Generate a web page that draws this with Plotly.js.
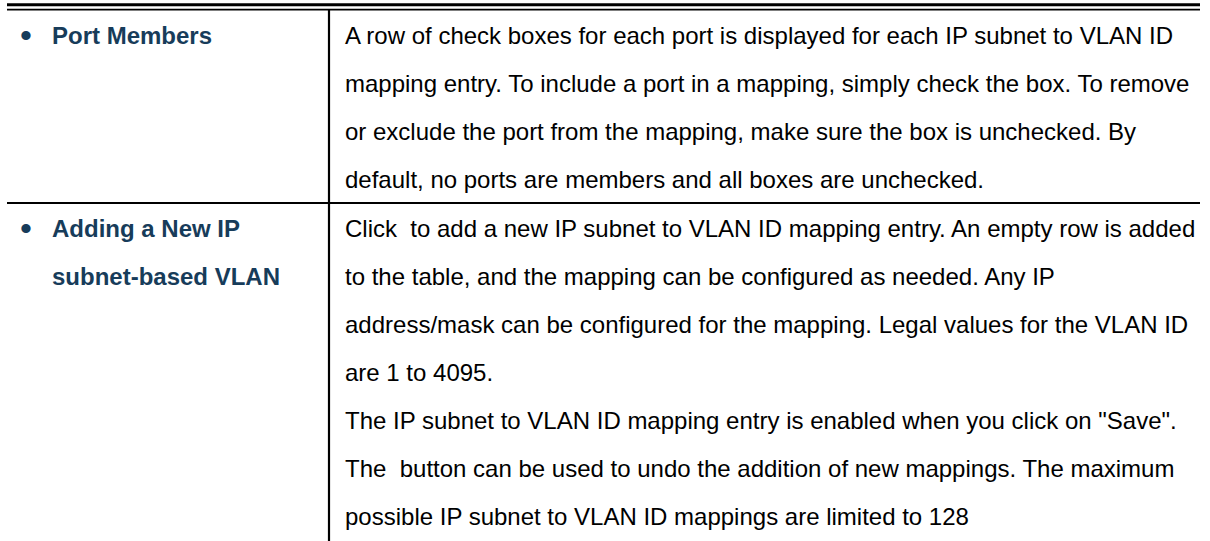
<!DOCTYPE html>
<html>
<head>
<meta charset="utf-8">
<script src="https://cdn.plot.ly/plotly-3.0.1.min.js"></script>
<style>
html,body{margin:0;padding:0;background:#fff;overflow:hidden;}
#chart{width:1210px;height:541px;}
</style>
</head>
<body>
<div id="chart"></div>
<script>
// ---- content ----
const rowLabels = [
  ["Port Members"],
  ["Adding a New IP", "subnet-based VLAN"]
];
const rowTextLines = [
  [
    "A row of check boxes for each port is displayed for each IP subnet to VLAN ID",
    "mapping entry. To include a port in a mapping, simply check the box. To remove",
    "or exclude the port from the mapping, make sure the box is unchecked. By",
    "default, no ports are members and all boxes are unchecked."
  ],
  [
    "Click  to add a new IP subnet to VLAN ID mapping entry. An empty row is added",
    "to the table, and the mapping can be configured as needed. Any IP",
    "address/mask can be configured for the mapping. Legal values for the VLAN ID",
    "are 1 to 4095.",
    "The IP subnet to VLAN ID mapping entry is enabled when you click on \"Save\".",
    "The  button can be used to undo the addition of new mappings. The maximum",
    "possible IP subnet to VLAN ID mappings are limited to 128"
  ]
];

// ---- layout constants ----
const W = 1210, H = 541;
const tableLeft = 7, tableRight = 1200, colSplit = 329;
const lineGap = 48;
const rowTops = [10, 203];
const firstLineOffset = 25;
const fontFamily = '"Liberation Sans", Arial, Helvetica, sans-serif';
const fontSize = 24;
const labelColor = '#173c5a';

const annotations = [];
const shapes = [];

// top double rule
shapes.push({type:'line', xref:'x', yref:'y', x0:tableLeft, x1:tableRight, y0:4.8, y1:4.8, line:{color:'#000', width:3}});
shapes.push({type:'line', xref:'x', yref:'y', x0:tableLeft, x1:tableRight, y0:9.6, y1:9.6, line:{color:'#000', width:1.6}});
// column split
shapes.push({type:'line', xref:'x', yref:'y', x0:colSplit, x1:colSplit, y0:10, y1:H, line:{color:'#000', width:2.2}});
// row separators
for (let r = 1; r < rowTops.length; r++) {
  shapes.push({type:'line', xref:'x', yref:'y', x0:tableLeft, x1:tableRight, y0:rowTops[r], y1:rowTops[r], line:{color:'#000', width:2}});
}

rowLabels.forEach((labels, r) => {
  const y0 = rowTops[r] + firstLineOffset;
  annotations.push({x:26, y:y0, xref:'x', yref:'y', text:'\u2022', showarrow:false,
    xanchor:'center', yanchor:'middle', font:{family:fontFamily, size:34, color:labelColor}});
  labels.forEach((t, i) => {
    annotations.push({x:50, y:y0 + i*lineGap, xref:'x', yref:'y', text:'<b>'+t+'</b>', showarrow:false,
      xanchor:'left', yanchor:'middle', align:'left',
      font:{family:fontFamily, size:fontSize, color:labelColor}});
  });
  rowTextLines[r].forEach((t, i) => {
    annotations.push({x:343, y:y0 + i*lineGap, xref:'x', yref:'y', text:t, showarrow:false,
      xanchor:'left', yanchor:'middle', align:'left',
      font:{family:fontFamily, size:fontSize, color:'#000'}});
  });
});

const layout = {
  width: W, height: H,
  margin: {l:0, r:0, t:0, b:0, pad:0},
  paper_bgcolor:'#fff', plot_bgcolor:'#fff',
  xaxis: {range:[0, W], visible:false, fixedrange:true},
  yaxis: {range:[H, 0], visible:false, fixedrange:true},
  showlegend:false,
  shapes: shapes,
  annotations: annotations
};

Plotly.newPlot('chart', [], layout, {staticPlot:true, displayModeBar:false});
</script>
</body>
</html>
